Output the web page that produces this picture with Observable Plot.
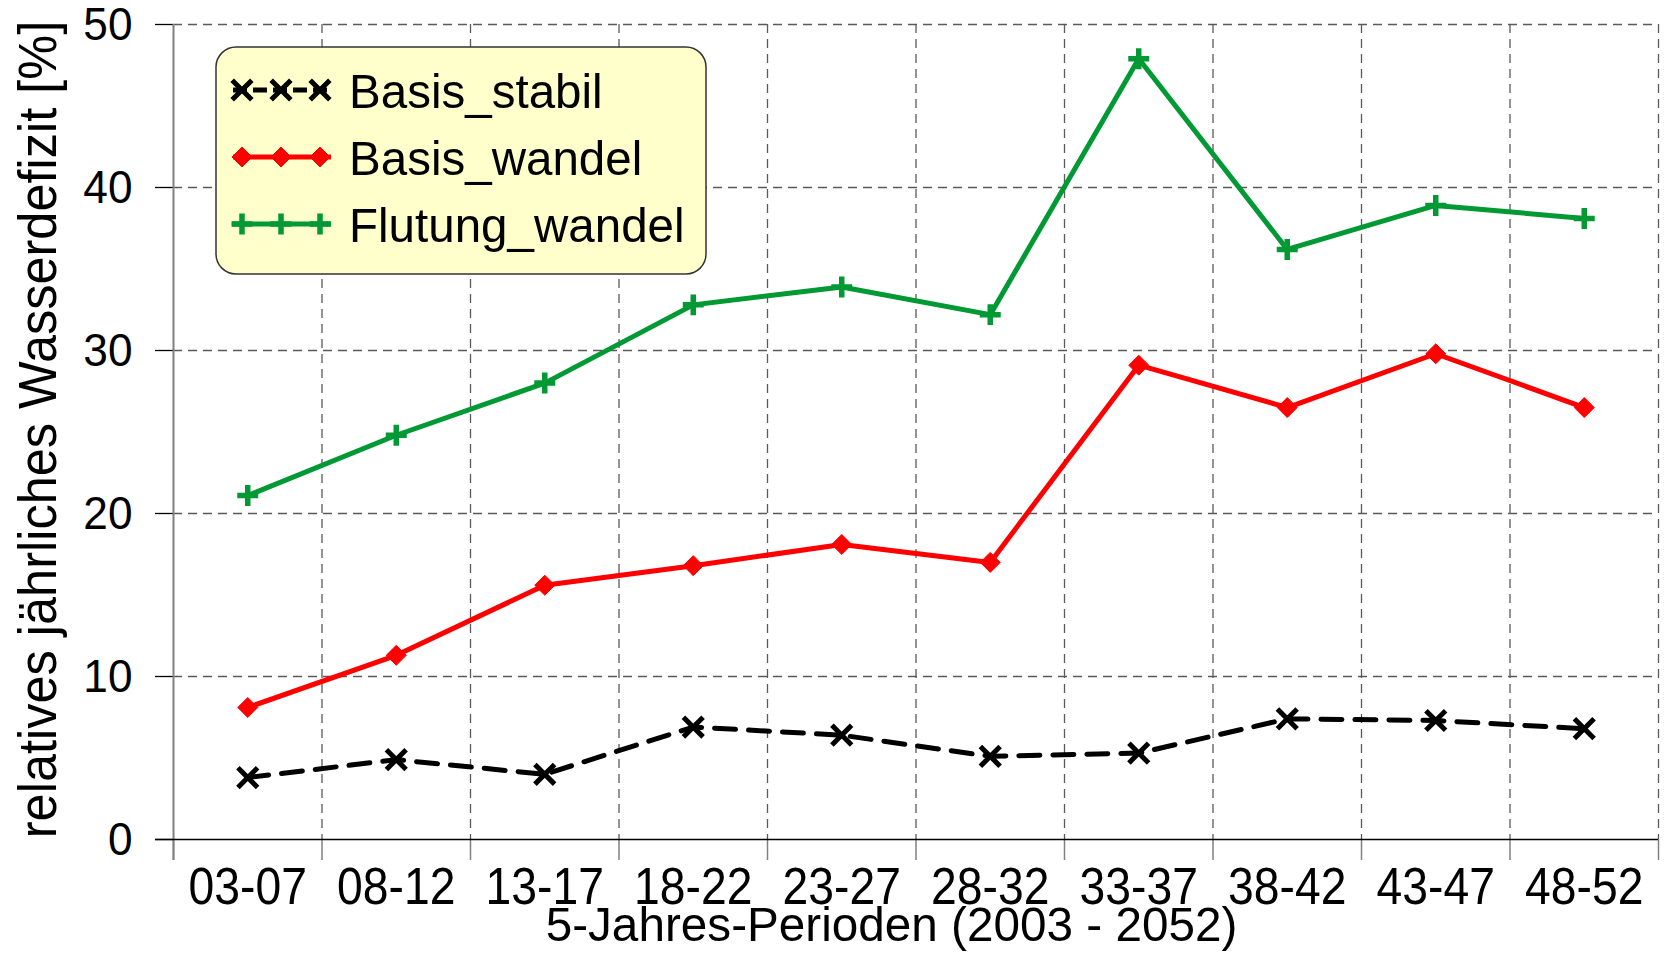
<!DOCTYPE html>
<html><head><meta charset="utf-8">
<script src="https://cdn.jsdelivr.net/npm/d3@7"></script>
<script src="https://cdn.jsdelivr.net/npm/@observablehq/plot@0.6"></script>
<style>body{margin:0;background:#fff}#chart{position:relative}</style>
</head><body><div id="chart"></div>
<script>
const periods = ["03-07","08-12","13-17","18-22","23-27","28-32","33-37","38-42","43-47","48-52"];
const basisStabil   = [3.8, 4.9, 4.0, 6.9, 6.4, 5.1, 5.3, 7.4, 7.3, 6.8];
const basisWandel   = [8.1, 11.3, 15.6, 16.8, 18.1, 17.0, 29.1, 26.5, 29.8, 26.5];
const flutungWandel = [21.1, 24.8, 28.0, 32.8, 33.9, 32.2, 47.9, 36.2, 38.9, 38.1];
const seriesNames  = ["Basis_stabil", "Basis_wandel", "Flutung_wandel"];
const seriesColors = ["#000000", "#ff0000", "#009933"];
const yTicks = [0, 10, 20, 30, 40, 50];
const xTitle = "5-Jahres-Perioden (2003 - 2052)";
const yTitle = "relatives jährliches Wasserdefizit [%]";

const toRows = vals => vals.map((v, i) => ({i, period: periods[i], value: v}));
const rStabil = toRows(basisStabil), rWandel = toRows(basisWandel), rFlut = toRows(flutungWandel);
const centers = periods.map((_, i) => i);
const bounds = d3.range(-0.5, periods.length, 1);

const FONT = "Liberation Sans, Arial, sans-serif";
const gridStyle = {stroke: "#5a5a5a", strokeOpacity: 1, strokeWidth: 1.3, strokeDasharray: "9,6"};

const svg = Plot.plot({
  width: 1665, height: 973,
  marginTop: 24, marginBottom: 134, marginLeft: 173, marginRight: 7,
  style: {fontFamily: FONT, background: "#fff", color: "#000", overflow: "visible"},
  x: {type: "linear", domain: [-0.5, periods.length - 0.5], axis: null},
  y: {domain: [0, 50], axis: null},
  marks: [
    Plot.ruleY(yTicks.slice(1), gridStyle),
    Plot.ruleX(bounds.slice(1), gridStyle),
    Plot.axisY({ticks: yTicks, tickSize: 18, tickPadding: 23, fontSize: 47, stroke: "#000", strokeWidth: 1.3, label: null}),
    Plot.axisX({ticks: bounds, tickSize: 21, tickFormat: () => "", stroke: "#808080", strokeWidth: 1.5, label: null}),
    Plot.axisX({ticks: centers, tickSize: 0, tickPadding: 28, fontSize: 52, tickFormat: i => periods[i], label: null}),
    Plot.ruleX([-0.5], {stroke: "#808080", strokeWidth: 2, insetBottom: -21}),
    Plot.ruleY([0], {stroke: "#000", strokeWidth: 1.5, insetLeft: -18}),
    Plot.line(rStabil, {x: "i", y: "value", stroke: seriesColors[0], strokeWidth: 5, strokeDasharray: "21,13"}),
    Plot.dot(rStabil, {x: "i", y: "value", symbol: "times", r: 9, stroke: seriesColors[0], strokeWidth: 5}),
    Plot.line(rWandel, {x: "i", y: "value", stroke: seriesColors[1], strokeWidth: 5}),
    Plot.dot(rWandel, {x: "i", y: "value", symbol: "diamond2", r: 9, fill: seriesColors[1], stroke: seriesColors[1], strokeWidth: 1}),
    Plot.line(rFlut, {x: "i", y: "value", stroke: seriesColors[2], strokeWidth: 5}),
    Plot.dot(rFlut, {x: "i", y: "value", symbol: "plus", r: 6.8, stroke: seriesColors[2], strokeWidth: 5.5}),
    Plot.text([yTitle], {frameAnchor: "left", rotate: -90, textAnchor: "middle", lineAnchor: "middle", dx: -135, dy: -2.5, fontSize: 54}),
    Plot.text([xTitle], {frameAnchor: "bottom", textAnchor: "middle", lineAnchor: "middle", dx: -24.5, dy: 86, fontSize: 49})
  ]
});
document.getElementById("chart").append(svg);

// legend
const lg = d3.select(svg).append("g").attr("aria-label", "legend");
lg.append("rect").attr("x", 216).attr("y", 47).attr("width", 490).attr("height", 227)
  .attr("rx", 20).attr("fill", "#ffffcc").attr("stroke", "#333").attr("stroke-width", 1.5);
const rowY = [90, 157, 224];
const syms = [
  {type: d3.symbolTimes, r: 9, fill: "none", sw: 5},
  {type: d3.symbolDiamond2, r: 9, fill: "#ff0000", sw: 1},
  {type: d3.symbolPlus, r: 6.8, fill: "none", sw: 5.5}
];
seriesNames.forEach((name, k) => {
  const y = rowY[k], c = seriesColors[k], s = syms[k];
  lg.append("line").attr("x1", 233).attr("x2", 331).attr("y1", y).attr("y2", y)
    .attr("stroke", c).attr("stroke-width", 5).attr("stroke-dasharray", k === 0 ? "14,6" : null);
  [242, 281, 320].forEach(x => {
    lg.append("path").attr("transform", `translate(${x},${y})`)
      .attr("d", d3.symbol(s.type, Math.PI * s.r * s.r)())
      .attr("fill", s.fill).attr("stroke", c).attr("stroke-width", s.sw);
  });
  lg.append("text").attr("x", 349).attr("y", y).attr("dy", "0.36em")
    .attr("text-anchor", "start")
    .attr("font-family", FONT).attr("font-size", 49).attr("fill", "#000").text(name);
});

// horizontal condensation of text like the reference
const factors = {"x-axis tick label": 0.89, "y-axis tick label": 0.94, "legend": 0.97};
svg.querySelectorAll("text").forEach(t => {
  const L = t.getComputedTextLength();
  if (!L) return;
  const g = t.closest("g[aria-label]");
  const lab = g ? g.getAttribute("aria-label") : "";
  let f = factors[lab] ?? 0.935;
  if (t.textContent === xTitle) f = 0.973;
  t.setAttribute("textLength", L * f);
  t.setAttribute("lengthAdjust", "spacingAndGlyphs");
});
</script>
</body></html>
